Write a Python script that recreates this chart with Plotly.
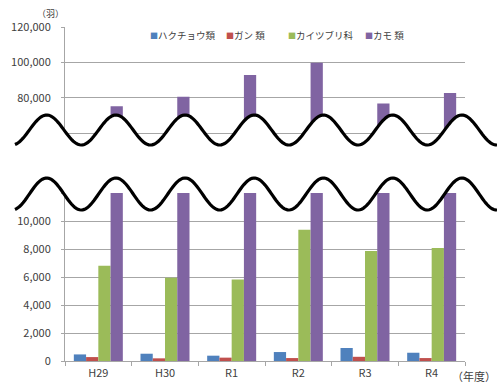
import numpy as np
import plotly.graph_objects as go

categories = ["H29", "H30", "R1", "R2", "R3", "R4"]
series_names = ["ハクチョウ類", "ガン 類", "カイツブリ科", "カモ 類"]
swan = [470, 520, 380, 640, 930, 590]
goose = [280, 190, 240, 210, 300, 210]
grebe = [6800, 5940, 5820, 9380, 7860, 8080]
duck = [75200, 80500, 92800, 99800, 76700, 82700]
colors = ["#4F81BD", "#C0504D", "#9BBB59", "#8064A2"]

top_ticks = [60000, 80000, 100000, 120000]
top_text = ["", "80,000", "100,000", "120,000"]
bot_ticks = [0, 2000, 4000, 6000, 8000, 10000, 12000]
bot_text = ["0", "2,000", "4,000", "6,000", "8,000", "10,000", ""]

W, H = 498, 385
L, R, T, B = 65, 33, 27, 24
PW, PH = W - L - R, H - T - B

def px2paper(x, y):
    return (x - L) / PW, (H - B - y) / PH

top_dom = [px2paper(0, 133)[1], 1.0]
bot_dom = [0.0, px2paper(0, 193)[1]]

fig = go.Figure()
all_series = [swan, goose, grebe, duck]
for name, vals, col in zip(series_names, all_series, colors):
    fig.add_trace(go.Bar(x=categories, y=vals, name=name, marker_color=col,
                         marker_line_width=0, xaxis="x", yaxis="y",
                         legendgroup=name, showlegend=False))
    fig.add_trace(go.Bar(x=categories, y=vals, name=name, marker_color=col,
                         marker_line_width=0, xaxis="x2", yaxis="y2",
                         legendgroup=name, showlegend=False))

font_main = "Noto Sans CJK JP, sans-serif"
grid = "#A6A6A6"
txt = "#404040"

# decorative break waves (pixel space -> paper)
xs = np.linspace(15, 497, 300)
period, x0 = 69.2, 46.7
y_top = 130 - 15 * np.cos(2 * np.pi * (xs - x0) / period)
y_bot = 194 - 16 * np.cos(2 * np.pi * (xs - x0) / period)

def pts_str(xv, yv):
    return " L ".join(f"{px2paper(a, b)[0]:.5f},{px2paper(a, b)[1]:.5f}" for a, b in zip(xv, yv))

fill_path = "M " + pts_str(xs, y_top) + " L " + pts_str(xs[::-1], y_bot[::-1]) + " Z"

shapes = [
    dict(type="path", path=fill_path, xref="paper", yref="paper",
         fillcolor="white", line=dict(width=0), layer="above"),
    dict(type="path", path="M " + pts_str(xs, y_top), xref="paper", yref="paper",
         line=dict(color="black", width=3.2), layer="above"),
    dict(type="path", path="M " + pts_str(xs, y_bot), xref="paper", yref="paper",
         line=dict(color="black", width=3.2), layer="above"),
]

# legend (key squares + names) placed like the original
legend_x_px = [148, 224, 286, 363]
legend_y_px = 35.5
annotations = []
for name, col, lx in zip(series_names, colors, legend_x_px):
    annotations.append(dict(
        text=f"<span style='color:{col};font-size:8px'>■</span>{name}",
        xref="paper", yref="paper", x=px2paper(lx, 0)[0], y=px2paper(0, legend_y_px)[1],
        xanchor="left", yanchor="middle", showarrow=False,
        font=dict(size=9.5, color=txt)))

annotations += [
    dict(text="（羽）", xref="paper", yref="paper",
         x=px2paper(66, 0)[0], y=px2paper(0, 13.5)[1], xanchor="right", yanchor="middle",
         showarrow=False, font=dict(size=9, color=txt)),
    dict(text="（年度）", xref="paper", yref="paper",
         x=px2paper(498, 0)[0], y=px2paper(0, 376)[1], xanchor="right", yanchor="middle",
         showarrow=False, font=dict(size=11, color=txt)),
]

fig.update_layout(
    width=W, height=H,
    margin=dict(l=L, r=R, t=T, b=B, pad=0, autoexpand=False),
    paper_bgcolor="white", plot_bgcolor="white",
    barmode="group", bargap=0.265, bargroupgap=0,
    font=dict(family=font_main, size=11, color=txt),
    showlegend=False,
    xaxis=dict(domain=[0, 1], anchor="y", type="category", automargin=False,
               showline=True, linecolor=grid, linewidth=1,
               ticks="outside", tickson="boundaries", ticklen=4, tickcolor=grid,
               showgrid=False, tickfont=dict(size=11, color=txt), ticklabelstandoff=2),
    xaxis2=dict(domain=[0, 1], anchor="y2", type="category", matches="x", automargin=False,
                showline=True, linecolor=grid, linewidth=1, showticklabels=False,
                ticks="", showgrid=False),
    yaxis=dict(domain=bot_dom, anchor="x", range=[0, 12000], automargin=False,
               tickvals=bot_ticks, ticktext=bot_text,
               showline=True, linecolor=grid, linewidth=1,
               showgrid=True, gridcolor=grid, gridwidth=1,
               ticks="outside", ticklen=3, tickcolor=grid,
               ticklabelstandoff=8, zeroline=False, tickfont=dict(size=11, color=txt)),
    yaxis2=dict(domain=top_dom, anchor="x2", range=[60000, 120000], automargin=False,
                tickvals=top_ticks, ticktext=top_text,
                showline=True, linecolor=grid, linewidth=1,
                showgrid=True, gridcolor=grid, gridwidth=1,
                ticks="outside", ticklen=3, tickcolor=grid,
                ticklabelstandoff=8, zeroline=False, tickfont=dict(size=11, color=txt)),
    shapes=shapes,
    annotations=annotations,
)

fig.write_html("out.html")
